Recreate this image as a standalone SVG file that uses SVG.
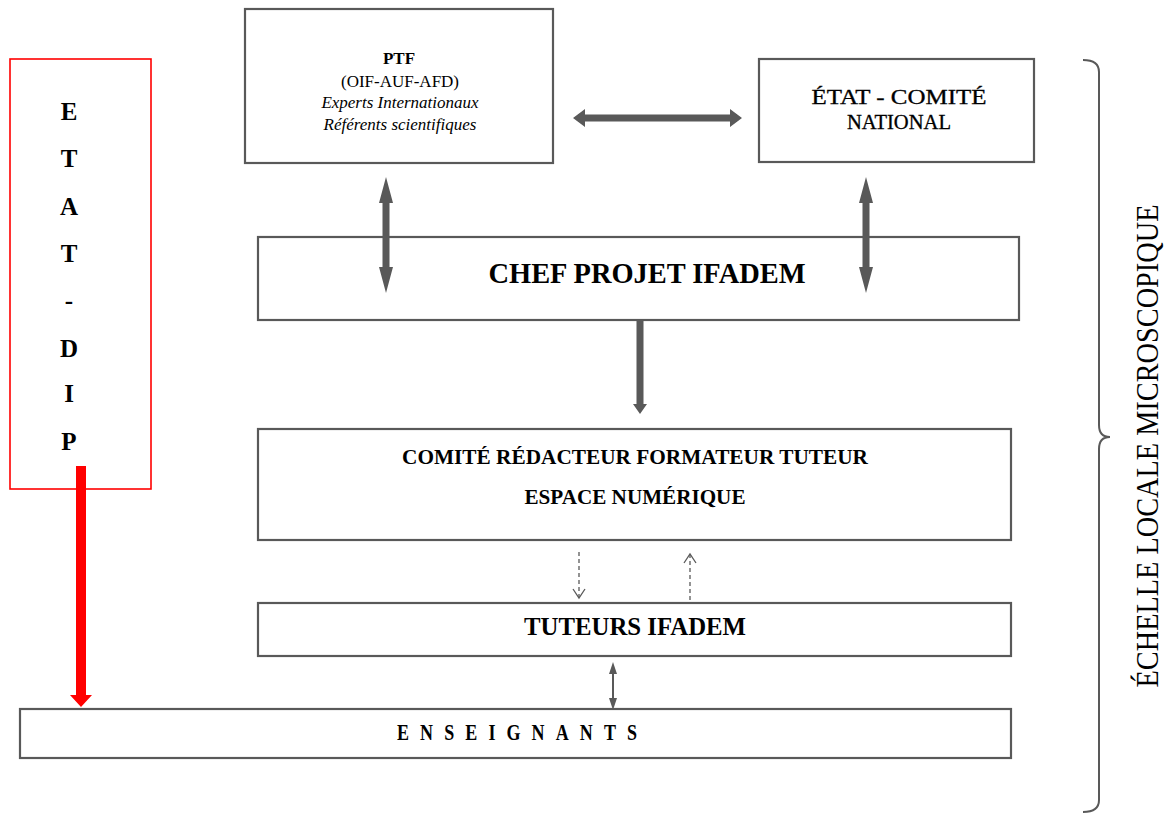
<svg xmlns="http://www.w3.org/2000/svg" width="1167" height="815" viewBox="0 0 1167 815">
<style>
.box{fill:#fff;stroke:#595959;stroke-width:2.2}
.red{fill:#fff;stroke:#ff0000;stroke-width:1.6}
.t{font-family:"Liberation Serif","Times New Roman",serif;fill:#000;text-anchor:middle}
.b{font-weight:bold}
.i{font-style:italic}
.arr{fill:#595959;stroke:none}
.dash{fill:none;stroke:#595959;stroke-width:1.3;stroke-dasharray:4 3}
.head{fill:none;stroke:#595959;stroke-width:1.3}
</style>
<rect width="1167" height="815" fill="#fff"/>

<g id="etat-dip">
<rect class="red" x="10" y="59" width="141" height="430"/>
<g class="t b" font-size="25">
<text x="69" y="120">E</text>
<text x="69" y="167">T</text>
<text x="69" y="215">A</text>
<text x="69" y="262">T</text>
<text x="69" y="309">-</text>
<text x="69" y="357">D</text>
<text x="69" y="402">I</text>
<text x="69" y="450">P</text>
</g>
</g>

<g id="ptf">
<rect class="box" x="245" y="9" width="308" height="154"/>
<text class="t b" x="399" y="64" font-size="17">PTF</text>
<text class="t" x="400" y="87" font-size="17">(OIF-AUF-AFD)</text>
<text class="t i" x="400" y="108" font-size="17">Experts Internationaux</text>
<text class="t i" x="400" y="130" font-size="17">Référents scientifiques</text>
</g>

<g id="etat-comite">
<rect class="box" x="759" y="59" width="275" height="103"/>
<text class="t" x="899" y="104" font-size="20" stroke="#000" stroke-width="0.3" textLength="175" lengthAdjust="spacingAndGlyphs">ÉTAT  - COMITÉ</text>
<text class="t" x="899" y="129" font-size="20" stroke="#000" stroke-width="0.3" textLength="104" lengthAdjust="spacingAndGlyphs">NATIONAL</text>
</g>

<g id="chef">
<rect class="box" x="258" y="237" width="761" height="83"/>
<text class="t b" x="647" y="283" font-size="30" textLength="317" lengthAdjust="spacingAndGlyphs">CHEF PROJET IFADEM</text>
</g>

<g id="comite">
<rect class="box" x="258" y="429" width="753" height="111"/>
<text class="t b" x="635" y="464" font-size="22" textLength="466" lengthAdjust="spacingAndGlyphs">COMITÉ RÉDACTEUR FORMATEUR TUTEUR</text>
<text class="t b" x="635" y="504" font-size="22" textLength="221" lengthAdjust="spacingAndGlyphs">ESPACE NUMÉRIQUE</text>
</g>

<g id="tuteurs">
<rect class="box" x="258" y="603" width="753" height="53"/>
<text class="t b" x="635" y="635" font-size="25" textLength="222" lengthAdjust="spacingAndGlyphs">TUTEURS IFADEM</text>
</g>

<g id="enseignants">
<rect class="box" x="20" y="709" width="991" height="49"/>
<text class="t b" transform="translate(517,740) scale(0.75,1)" x="0" y="0" font-size="24" textLength="320" lengthAdjust="spacing">ENSEIGNANTS</text>
</g>

<g id="echelle">
<path d="M1083,60 Q1099,60 1099,72 L1099,425 Q1099,437 1110,437 Q1099,437 1099,449 L1099,800 Q1099,812 1083,812" fill="none" stroke="#595959" stroke-width="2"/>
<text class="t" transform="translate(1158,446) rotate(-90)" font-size="31" textLength="483" lengthAdjust="spacingAndGlyphs">ÉCHELLE LOCALE MICROSCOPIQUE</text>
</g>

<g id="connectors">
<polygon class="arr" points="573,118 585,109 585,114.5 730,114.5 730,109 742,118 730,127 730,121.5 585,121.5 585,127"/>
<polygon class="arr" points="386,177 393,203 389.5,203 389.5,267 393,267 386,293 379,267 382.5,267 382.5,203 379,203"/>
<polygon class="arr" points="866,177 873,203 869.5,203 869.5,267 873,267 866,293 859,267 862.5,267 862.5,203 859,203"/>
<polygon class="arr" points="636.5,321 643.5,321 643.5,404 647,404 640,414 633,404 636.5,404"/>
<line class="dash" x1="579" y1="552" x2="579" y2="597"/>
<polyline class="head" points="573,589 579,598 585,589"/>
<line class="dash" x1="690" y1="600" x2="690" y2="555"/>
<polyline class="head" points="684,563 690,554 696,563"/>
<polygon class="arr" points="613,662 617,674 614,674 614,698 617,698 613,710 609,698 612,698 612,674 609,674"/>
<polygon fill="#ff0000" points="76,466 86,466 86,695 92,695 81,707 70,695 76,695"/>
</g>
</svg>
